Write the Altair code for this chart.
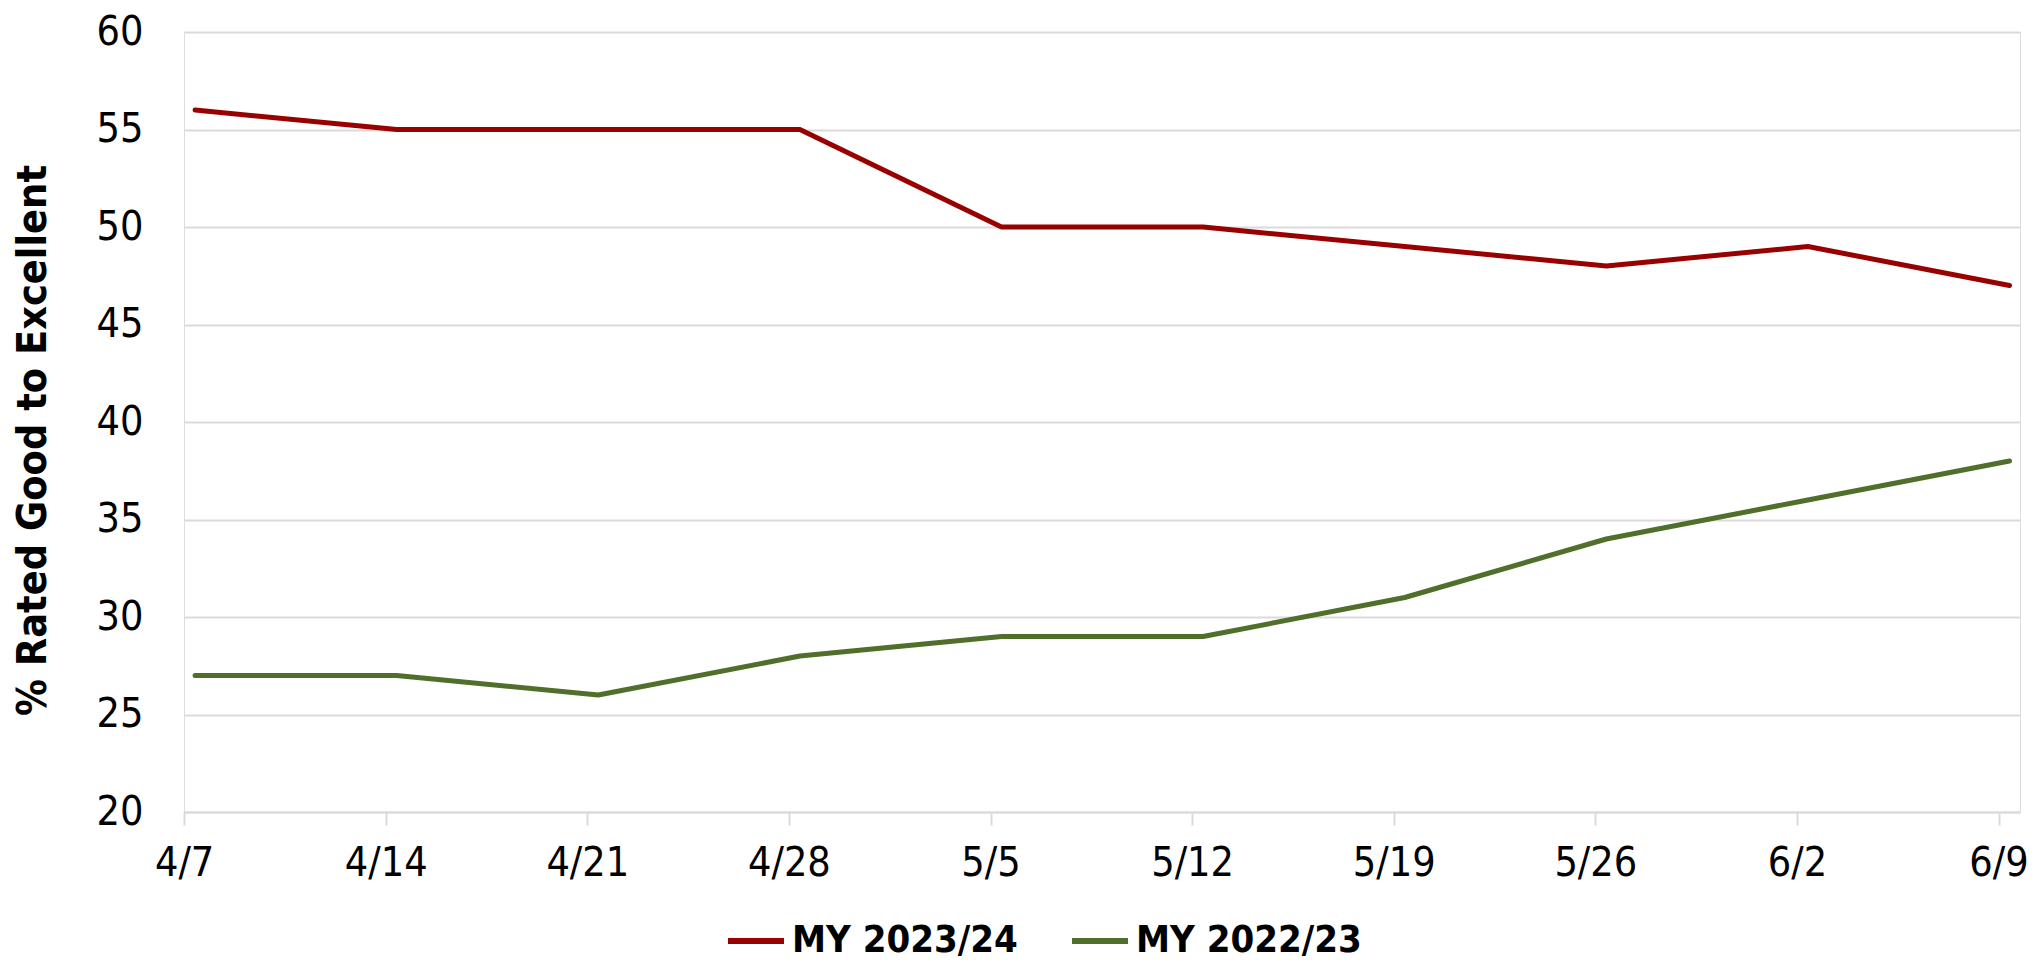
import altair as alt
import pandas as pd

weeks = ["4/7", "4/14", "4/21", "4/28", "5/5", "5/12", "5/19", "5/26", "6/2", "6/9"]
series_names = ["MY 2023/24", "MY 2022/23"]
my_2023_24 = [56, 55, 55, 55, 50, 50, 49, 48, 49, 47]
my_2022_23 = [27, 27, 26, 28, 29, 29, 31, 34, 36, 38]
series_colors = ["#990000", "#4F6F2A"]

rows = []
for name, vals in zip(series_names, [my_2023_24, my_2022_23]):
    for i, (w, v) in enumerate(zip(weeks, vals)):
        rows.append({"idx": i, "week": w, "series": name, "value": v})
df = pd.DataFrame(rows)

FONT = "Liberation Sans Narrow, Arial Narrow, DejaVu Sans Condensed, sans-serif"
label_expr = "[" + ",".join("'" + w + "'" for w in weeks) + "][datum.value]"

chart = (
    alt.Chart(df)
    .mark_line(strokeWidth=5, strokeCap="round", strokeJoin="round")
    .encode(
        x=alt.X(
            "idx:Q",
            scale=alt.Scale(domain=[-0.055, 9.052], nice=False, zero=False),
            axis=alt.Axis(
                values=list(range(len(weeks))),
                labelExpr=label_expr,
                title=None,
                grid=False,
                domainColor="#DDD9D9",
                domainWidth=2,
                tickColor="#DDD9D9",
                tickWidth=2,
                tickSize=13,
                tickOffset=-11,
                labelFont=FONT,
                labelFontSize=41,
                labelColor="#000000",
                labelPadding=18,
                labelFlush=False,
            ),
        ),
        y=alt.Y(
            "value:Q",
            scale=alt.Scale(domain=[20, 60], nice=False, zero=False),
            axis=alt.Axis(
                values=[20, 25, 30, 35, 40, 45, 50, 55, 60],
                title="% Rated Good to Excellent",
                titleFont=FONT,
                titleFontSize=41,
                titleFontWeight="bold",
                titleColor="#000000",
                titleAngle=-90,
                titleBaseline="middle",
                titleAlign="center",
                titleX=-151,
                titleY=408,
                domain=False,
                ticks=False,
                grid=True,
                gridColor="#DDD9D9",
                gridWidth=2,
                labelFont=FONT,
                labelFontSize=41,
                labelColor="#000000",
                labelPadding=41,
            ),
        ),
        color=alt.Color(
            "series:N",
            scale=alt.Scale(domain=series_names, range=series_colors),
            sort=series_names,
            legend=alt.Legend(
                title=None,
                orient="none",
                direction="horizontal",
                legendX=541,
                legendY=878,
                symbolType="stroke",
                symbolSize=3136,
                symbolStrokeWidth=6,
                labelFont=FONT,
                labelFontSize=38,
                labelFontWeight="bold",
                labelColor="#000000",
                labelOffset=5,
                columnPadding=42,
                labelLimit=0,
            ),
        ),
    )
    .properties(
        width=1836,
        height=780,
        autosize=alt.AutoSizeParams(type="none"),
        padding={"left": 176, "top": 24, "right": 15, "bottom": 150},
    )
    .configure_view(strokeWidth=0, stroke="transparent")
    .configure(background="#FFFFFF")
)

chart.save("out.html", embed_options={"renderer": "svg", "actions": False})
